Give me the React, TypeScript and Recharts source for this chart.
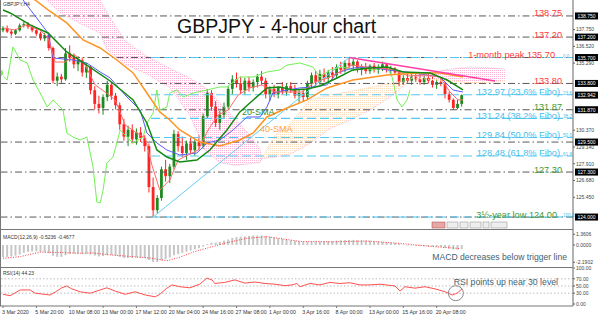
import React from 'react';
import { ComposedChart, Bar, Line, Area, XAxis, YAxis, ReferenceLine, ReferenceDot } from 'recharts';

const FONT = '"Liberation Sans", Arial, sans-serif';

// ---- DATA ----
// OHLC per bar (each bar ~ 8 hours, 3 Mar 2020 -> 22 Apr 2020)
const candles: [number, number, number, number][] = [
  [137.70,138.00,137.55,137.85],[137.85,138.05,137.50,137.60],[137.60,137.75,137.30,137.45],[137.45,137.80,137.35,137.70],[137.70,138.20,137.60,138.05],
  [138.05,138.35,137.90,138.15],[138.15,138.30,137.80,137.95],[137.95,138.10,137.55,137.70],[137.70,137.85,137.30,137.45],[137.45,137.60,136.95,137.10],
  [137.10,137.50,136.90,137.35],[137.35,137.40,136.20,136.40],[136.40,136.50,133.80,134.00],[134.00,134.60,133.60,134.30],[134.30,134.50,133.80,134.10],
  [134.10,136.40,134.00,136.00],[136.00,136.60,135.40,135.70],[135.70,136.00,134.90,135.20],[135.20,135.80,134.70,135.50],[135.50,135.70,134.30,134.60],
  [134.60,135.30,134.20,135.00],[135.00,135.10,133.00,133.30],[133.30,133.60,131.90,132.30],[132.30,132.90,131.60,132.00],[132.00,133.00,131.50,132.80],
  [132.80,134.00,132.50,133.70],[133.70,133.90,132.60,132.90],[132.90,133.10,131.90,132.20],[132.20,132.40,130.40,130.80],[130.80,131.20,129.60,129.90],
  [129.90,130.70,129.20,130.40],[130.40,130.80,129.40,129.70],[129.70,130.50,129.30,130.20],[130.20,130.60,129.50,129.80],[129.80,130.00,128.80,129.20],
  [129.20,129.40,125.80,126.20],[126.20,126.90,124.00,124.50],[124.50,125.60,124.30,125.40],[125.40,127.70,125.20,127.50],[127.50,128.20,126.60,127.00],
  [127.00,127.90,126.50,127.70],[127.70,130.40,127.50,130.10],[130.10,130.30,128.80,129.20],[129.20,129.90,128.40,128.70],[128.70,129.60,128.20,129.40],
  [129.40,129.80,128.60,128.90],[128.90,129.70,128.50,129.50],[129.50,130.00,128.90,129.20],[129.20,131.60,129.00,131.40],[131.40,133.40,131.20,133.10],
  [133.10,133.30,131.80,132.10],[132.10,132.50,130.60,130.90],[130.90,131.80,130.40,131.50],[131.50,132.40,131.20,132.10],[132.10,133.60,131.90,133.40],
  [133.40,134.40,133.00,134.10],[134.10,134.60,133.50,133.80],[133.80,134.30,133.00,133.30],[133.30,134.20,133.00,134.00],[134.00,134.30,133.20,133.50],
  [133.50,134.10,133.20,133.90],[133.90,134.50,133.50,134.30],[134.30,134.70,133.70,134.00],[134.00,134.20,132.70,133.00],[133.00,133.60,132.50,133.40],
  [133.40,133.70,132.80,133.00],[133.00,133.60,132.70,133.50],[133.50,133.90,133.00,133.20],[133.20,133.80,132.90,133.60],[133.60,133.90,133.10,133.30],
  [133.30,133.70,132.70,132.90],[132.90,133.30,132.40,133.10],[133.10,133.40,132.50,132.80],[132.80,134.00,132.60,133.80],[133.80,134.60,133.50,134.40],
  [134.40,134.70,133.60,133.90],[133.90,134.80,133.70,134.50],[134.50,134.90,133.90,134.20],[134.20,134.80,133.80,134.60],[134.60,135.00,134.10,134.40],
  [134.40,135.20,134.20,135.00],[135.00,135.40,134.50,134.80],[134.80,135.50,134.60,135.30],[135.30,135.70,134.90,135.10],[135.10,135.60,134.70,135.40],
  [135.40,135.50,134.60,134.80],[134.80,135.20,134.40,135.00],[135.00,135.30,134.50,134.70],[134.70,135.20,134.50,135.10],[135.10,135.30,134.60,134.80],
  [134.80,135.20,134.50,135.00],[135.00,135.40,134.70,135.20],[135.20,135.30,134.60,134.80],[134.80,135.10,134.40,134.90],[134.90,135.00,134.50,134.60],
  [134.60,134.70,133.60,133.90],[133.90,134.40,133.70,134.20],[134.20,134.60,133.80,134.00],[134.00,134.50,133.70,134.30],[134.30,134.60,133.90,134.10],
  [134.10,134.50,133.70,133.90],[133.90,134.40,133.70,134.20],[134.20,134.50,133.80,134.00],[134.00,134.30,133.50,133.70],[133.70,134.10,133.40,133.90],
  [133.90,134.20,133.60,133.80],[133.80,133.90,132.70,133.00],[133.00,133.20,132.40,132.60],[132.60,132.70,131.85,132.00],[132.00,132.60,131.90,132.30],
  [132.30,133.00,132.10,132.94],
];

const sma20: [number, number][] = [
  [0,139.19],[1.7,138.97],[6.5,138.09],[10.8,137.50],[15.3,136.11],[20.1,135.15],[25.7,133.98],[31.2,132.59],[34.5,130.90],[36.9,128.92],
  [39.3,128.40],[42.4,128.04],[46.5,128.18],[49.6,128.92],[53.7,130.39],[56.8,131.71],[60,132.59],[63.3,133.47],[66.4,133.54],[69.5,133.32],
  [72.9,133.39],[76,133.61],[80.1,134.20],[83.9,134.79],[88,134.93],[92.1,135.01],[95.9,134.64],[102.4,134.57],[106.5,134.05],[110.3,133.32],
];
const sma40: [number, number][] = [
  [0,140.9],[4,140.5],[7.7,139.92],[10.8,139.19],[15.3,138.24],[19.2,136.99],[23.3,136.40],[27.3,135.52],[31.2,134.57],[34.5,133.10],
  [37.6,131.71],[40,131.12],[42.4,130.39],[47.2,129.50],[52,129.21],[56.8,129.65],[60,130.17],[63.3,131.34],[68.1,132.00],[72.9,132.59],
  [77.7,133.47],[83.9,134.05],[92.1,134.42],[100,134.57],[104.8,134.57],[110.3,134.27],
];
const kijun: [number, number][] = [
  [1.7,141.0],[4.8,139.92],[10.8,137.50],[12,135.67],[16.8,135.52],[20.1,135.30],[23.3,134.64],[25.7,134.20],[29.7,132.81],[32.9,131.85],
  [34.5,130.17],[36.9,129.43],[39.3,128.92],[42.4,128.55],[46.5,128.70],[48.9,129.43],[52,129.65],[55.2,130.39],[58.5,131.34],[61.6,131.34],
  [63.3,132.07],[64.7,133.10],[68.1,133.32],[71.2,133.47],[74.3,133.54],[77.7,133.69],[80.1,134.57],[83.9,134.93],[88,135.01],[92.1,134.79],
  [96.9,134.64],[104.8,134.27],[107.9,133.32],[110.3,133.17],
];
const tenkan: [number, number][] = [
  [0,137.87],[2.9,137.72],[5.3,138.09],[8.9,137.72],[10.8,137.14],[12.5,135.37],[14.9,135.37],[17.3,135.89],[19.7,135.15],[22.1,133.69],
  [24.5,133.17],[26.9,132.59],[29.3,130.75],[31.7,130.24],[34.1,129.80],[35.7,127.82],[37.6,125.98],[40,126.72],[42,128.18],[44.4,128.55],
  [46.8,128.92],[49.2,130.39],[51.6,131.49],[54,131.85],[56.4,132.95],[59.2,133.47],[62.1,133.69],[65.2,133.17],[68.8,133.17],[71.7,133.17],
  [74.8,133.91],[77.9,134.20],[80.8,134.64],[83.7,135.15],[86.8,135.01],[90.4,134.93],[94,134.79],[97.1,134.35],[101.2,134.42],[104.8,134.27],
  [107.2,133.17],[109.1,132.59],[110.3,132.59],
];
const chikou: [number, number][] = [
  [-0.7,134.57],[1,134.05],[2.4,136.48],[4.1,135.52],[5.8,135.30],[7.2,134.05],[8.9,133.10],[10.6,132.07],[12,132.59],[14.4,131.85],
  [15.3,130.17],[16.8,129.87],[18.5,129.65],[20.1,129.87],[21.6,127.67],[22.5,125.10],[23.3,125.03],[24,125.98],[24.9,127.96],[26.4,128.40],
  [28.1,130.39],[29.7,129.87],[31.2,129.43],[33.6,129.87],[34.5,130.90],[36,131.63],[36.9,133.32],[37.6,131.85],[39.3,132.07],[40,133.10],
  [41.7,133.32],[43.2,132.81],[45.6,133.10],[48.9,133.32],[52,133.54],[53.7,133.54],[56.8,134.27],[60,134.27],[63.3,134.64],[66.4,134.79],
  [68.1,135.15],[71.2,135.30],[74.3,135.01],[76,134.27],[78.4,134.79],[81.5,135.01],[83.9,134.79],[86.3,135.01],[88.7,134.79],[92.1,135.01],
  [93.3,134.27],[94.5,132.59],[95.7,132.07],[96.9,132.59],[97.6,133.32],
];
// Ichimoku cloud: [bar, lower, upper]
const cloudBear1: [number, number, number][] = [
  [10.1,140.0,140.7],[13.7,139.0,140.7],[18.5,138.2,140.7],[23.3,137.5,139.9],[24.9,136.3,139.0],[29.3,135.2,136.9],[34.5,134.5,135.8],
  [40,133.5,134.9],[44.8,131.5,134.2],[48.4,128.9,133.5],[52,128.0,132.4],[55.6,127.8,131.2],[59.2,127.9,130.0],[61.6,128.0,129.0],[62.1,128.3,128.3],
];
const cloudBull: [number, number, number][] = [
  [62.1,128.3,128.3],[65.2,128.4,130.0],[68.8,128.6,130.8],[73.6,129.4,132.6],[78.4,130.5,132.95],[83.2,131.1,133.2],[88,131.85,133.5],
  [92.8,132.8,133.8],[96.4,133.7,134.0],[98.1,134.2,134.2],
];
const cloudBear2: [number, number, number][] = [
  [98.1,134.2,134.2],[102.4,134.1,134.6],[107.2,134.0,134.85],[112,133.85,135.0],[116.8,133.9,134.95],[120.4,134.0,134.85],
];
const fiboDiagonal: [number, number][] = [[36,124.0],[83,135.7]];
const resistanceLine: [number, number][] = [[83,135.7],[118,133.98]];

const grayLevels = [138.75, 137.20, 135.70, 133.80, 131.87, 129.50, 127.30, 124.00];
const fiboLevels: [number, string][] = [[135.70,'0.0'],[132.97,'23.6'],[131.24,'38.2'],[129.84,'50.0'],[128.48,'61.8'],[124.00,'100.0']];
const levelLabels: [number, string, string, number][] = [
  [138.75,'138.75','red',562],[137.20,'137.20','red',562],[135.70,'1-month peak 135.70','red',555],[133.80,'133.80','red',562],
  [132.97,'132.97 (23.6% Fibo)','blue',560],[131.87,'131.87','green',562],[131.24,'131.24 (38.2% Fibo)','blue',560],
  [129.84,'129.84 (50.0% Fibo)','blue',560],[128.48,'128.48 (61.8% Fibo)','blue',560],[127.30,'127.30','green',562],
  [124.00,'3½-year low 124.00','green',557],
];
const priceBoxes = [138.75, 137.20, 135.70, 133.80, 132.942, 131.87, 129.50, 127.30, 124.00];
const priceTicks = [125.45,126.68,127.91,129.14,130.37,135.29,136.52,137.75];

const macdHist = [
  -1.55,-1.5,-1.45,-1.35,-1.2,-1.0,-0.85,-0.8,-0.8,-0.85,
  -0.9,-1.05,-1.35,-1.5,-1.5,-1.3,-1.15,-1.1,-1.1,-1.15,
  -1.1,-1.2,-1.35,-1.45,-1.4,-1.3,-1.3,-1.35,-1.5,-1.65,
  -1.65,-1.65,-1.6,-1.6,-1.65,-1.9,-2.15,-2.15,-1.95,-1.8,
  -1.6,-1.3,-1.15,-1.0,-0.85,-0.7,-0.55,-0.4,-0.2,0.1,
  0.25,0.3,0.4,0.55,0.7,0.9,1.0,1.05,1.1,1.15,
  1.2,1.2,1.2,1.15,1.05,0.95,0.85,0.8,0.7,0.6,
  0.55,0.45,0.4,0.4,0.45,0.45,0.45,0.5,0.5,0.5,
  0.55,0.6,0.62,0.65,0.65,0.62,0.6,0.58,0.55,0.5,
  0.45,0.4,0.35,0.3,0.25,0.15,0.05,0.0,-0.05,-0.1,
  -0.12,-0.15,-0.18,-0.2,-0.22,-0.25,-0.35,-0.45,-0.55,-0.6,
  -0.52,
];
const macdSignal: [number, number][] = [
  [0,-1.69],[4.1,-1.48],[8.9,-0.9],[13.7,-0.95],[18.5,-1.05],[21.6,-1.0],[25.7,-1.25],[31.2,-1.48],[35.3,-1.65],[39.3,-2.0],
  [42.4,-1.55],[45.6,-0.9],[48.9,-0.4],[53.7,0.3],[58.5,0.85],[63.3,1.05],[68.1,0.7],[71.2,0.45],[79.1,0.4],[87.3,0.5],
  [95.2,0.2],[103.1,-0.2],[109.6,-0.45],
];
const rsi: [number, number][] = [
  [0,27],[1.7,23],[4.1,39],[6.5,39],[7.7,30],[11.3,25],[12.5,33],[14.1,45],[15.3,50],[16.5,42],
  [18.5,34],[20.9,30],[23.3,39],[24.9,45],[26.9,36],[29.3,27],[31.7,34],[34.1,25],[36.5,20],[37.6,27],
  [39.3,44],[40.5,53],[42.4,48],[44.8,45],[47.2,55],[48.9,72],[50.1,67],[50.8,57],[53.2,60],[55.6,67],
  [58,58],[60.4,61],[62.8,57],[65.2,55],[67.6,51],[69.3,53],[70.5,57],[71.2,48],[73.6,57],[76,53],
  [78.4,60],[80.8,57],[83.2,59],[85.6,53],[88,53],[90.4,55],[94,50],[95.2,36],[96.4,48],[98.8,44],
  [101.2,48],[103.6,42],[106,34],[107.7,25],[108.9,30],[110.1,42],
];
const dateTicks = [0,8,16,24,32,40,48,56,64,72,80,88,96,104];
const dateLabels = ['3 Mar 2020','5 Mar 20:00','10 Mar 08:00','13 Mar 00:00','17 Mar 12:00','20 Mar 04:00','24 Mar 16:00',
  '27 Mar 08:00','1 Apr 00:00','3 Apr 16:00','8 Apr 00:00','13 Apr 00:00','15 Apr 16:00','20 Apr 08:00'];

// ---- derived tables ----
const priceData = candles.map(([o, h, l, c], i) => ({ i, o, h, l, c, range: [l, h] }));
const pts = (a: [number, number][]) => a.map(([i, v]) => ({ i, v }));
const cloud = (a: [number, number, number][]) => a.map(([i, lo, hi]) => ({ i, r: [lo, hi], lo, hi }));
const macdData = macdHist.map((m, i) => ({ i, m, r: [Math.min(0, m), Math.max(0, m)] }));

const X_DOMAIN: [number, number] = [-0.72, 136.69];
const MAIN_DOMAIN: [number, number] = [123.05, 139.92];
const COLORS: Record<string, string> = { red: '#ff3838', blue: '#45c0ec', green: '#3c9a34' };

function Candle(props: any) {
  const { x, y, width, height, payload } = props;
  if (!payload || x == null) return null;
  const { o, h, l, c } = payload;
  const top = Math.min(y, y + height);
  const span = Math.abs(height);
  const toY = (v: number) => top + (h === l ? 0 : ((h - v) / (h - l)) * span);
  const cx = x + width / 2;
  const up = c >= o;
  const col = up ? '#1f8a1f' : '#ff2424';
  const bt = toY(Math.max(o, c));
  const bb = toY(Math.min(o, c));
  return (
    <g>
      <line x1={cx} x2={cx} y1={top} y2={top + span} stroke={col} strokeWidth={1} />
      <rect x={cx - 1.4} y={bt} width={2.8} height={Math.max(bb - bt, 0.8)} fill={col} />
    </g>
  );
}

function HistBar(props: any) {
  const { x, y, width, height } = props;
  if (x == null) return null;
  const top = Math.min(y, y + height);
  const cx = x + width / 2;
  return <rect x={cx - 1} y={top} width={2} height={Math.max(Math.abs(height), 0.5)} fill="#c6c6c6" />;
}

function LevelText(props: any) {
  const { viewBox, text, color, xEnd } = props;
  if (!viewBox) return null;
  return (
    <text x={xEnd} y={viewBox.y + 0.5} textAnchor="end" fill={color} fontSize={9.2} fontFamily={FONT}>{text}</text>
  );
}
function FiboTag(props: any) {
  const { viewBox, text } = props;
  if (!viewBox) return null;
  return <text x={563} y={viewBox.y} fill="#45c0ec" fontSize={4.6} fontFamily={FONT}>{text}</text>;
}
function PriceBox(props: any) {
  const { viewBox, value } = props;
  if (!viewBox) return null;
  const x0 = viewBox.x + viewBox.width + 2;
  return (
    <g>
      <rect x={x0} y={viewBox.y - 3.5} width={23} height={7} fill="#000" />
      <text x={x0 + 11.5} y={viewBox.y + 2} textAnchor="middle" fill="#fff" fontSize={5} fontFamily={FONT}>{value.toFixed(3)}</text>
    </g>
  );
}
function DateTick(props: any) {
  const { x, y, payload } = props;
  const idx = dateTicks.indexOf(payload.value);
  return <text x={x - 1} y={y + 4} fontSize={5.3} fill="#333" fontFamily={FONT} textAnchor="start">{dateLabels[idx]}</text>;
}

const axisTick = { fontSize: 5, fill: '#444', fontFamily: FONT };

export default function App() {
  return (
    <div style={{ position: 'absolute', left: 0, top: 0, width: 600, height: 317, background: '#fff', overflow: 'hidden' }}>
      {/* MAIN PRICE PANEL */}
      <div style={{ position: 'absolute', left: 0, top: 0 }}>
        <ComposedChart width={600} height={230} data={priceData} margin={{ top: 0, right: 0, bottom: 0, left: 0 }}>
          <defs>
            <pattern id="pinkDots" width="2" height="2" patternUnits="userSpaceOnUse">
              <rect x="0" y="0" width="1" height="1" fill="#ffb3d6" />
            </pattern>
            <pattern id="peachDots" width="2" height="2" patternUnits="userSpaceOnUse">
              <rect x="0" y="0" width="1" height="1" fill="#ffdcbc" />
            </pattern>
          </defs>
          <XAxis dataKey="i" type="number" domain={X_DOMAIN} hide allowDataOverflow />
          <YAxis orientation="right" width={27} domain={MAIN_DOMAIN} allowDataOverflow ticks={priceTicks}
            tick={axisTick} tickSize={2} tickMargin={1} tickFormatter={(v: number) => v.toFixed(3)}
            axisLine={{ stroke: '#666' }} tickLine={{ stroke: '#666' }} interval={0} />

          <Area data={cloud(cloudBear1)} dataKey="r" type="linear" stroke="none" fill="url(#pinkDots)" fillOpacity={1} isAnimationActive={false} />
          <Area data={cloud(cloudBull)} dataKey="r" type="linear" stroke="none" fill="url(#peachDots)" fillOpacity={1} isAnimationActive={false} />
          <Area data={cloud(cloudBear2)} dataKey="r" type="linear" stroke="none" fill="url(#pinkDots)" fillOpacity={1} isAnimationActive={false} />
          <Line data={cloud(cloudBear1)} dataKey="hi" stroke="#ffb3d6" strokeWidth={1} strokeDasharray="1 1" dot={false} isAnimationActive={false} />
          <Line data={cloud(cloudBear1)} dataKey="lo" stroke="#ffb3d6" strokeWidth={1} strokeDasharray="1 1" dot={false} isAnimationActive={false} />
          <Line data={cloud(cloudBull)} dataKey="hi" stroke="#ffd2a8" strokeWidth={1} strokeDasharray="1 1" dot={false} isAnimationActive={false} />
          <Line data={cloud(cloudBull)} dataKey="lo" stroke="#ffb3d6" strokeWidth={1} strokeDasharray="1 1" dot={false} isAnimationActive={false} />
          <Line data={cloud(cloudBear2)} dataKey="hi" stroke="#ffb3d6" strokeWidth={1} strokeDasharray="1 1" dot={false} isAnimationActive={false} />
          <Line data={cloud(cloudBear2)} dataKey="lo" stroke="#ffd2a8" strokeWidth={1} strokeDasharray="1 1" dot={false} isAnimationActive={false} />

          {grayLevels.map((v) => (
            <ReferenceLine key={'g' + v} y={v} stroke="#5a5a5a" strokeWidth={1} strokeDasharray="7 3 1.5 3" />
          ))}
          {fiboLevels.map(([v]) => (
            <ReferenceLine key={'f' + v} segment={[{ x: 35.5, y: v }, { x: 136.6, y: v }]} stroke="#55c8f0" strokeWidth={1.1} strokeDasharray="9 4" />
          ))}
          {fiboLevels.map(([v, t]) => (
            <ReferenceLine key={'ft' + v} y={v} stroke="none" label={<FiboTag text={t} />} />
          ))}

          <Line data={pts(fiboDiagonal)} dataKey="v" stroke="#66ccf5" strokeWidth={1} dot={false} isAnimationActive={false} />
          <Line data={pts(chikou)} dataKey="v" stroke="#72f252" strokeWidth={1} dot={false} isAnimationActive={false} />

          <Bar dataKey="range" barSize={3} shape={(p: any) => <Candle {...p} />} isAnimationActive={false} />

          <Line data={pts(kijun)} dataKey="v" stroke="#5a5aff" strokeWidth={1} dot={false} isAnimationActive={false} />
          <Line data={pts(tenkan)} dataKey="v" stroke="#ff6a6a" strokeWidth={1} dot={false} isAnimationActive={false} />
          <Line data={pts(sma40)} dataKey="v" stroke="#ff9424" strokeWidth={1.5} dot={false} isAnimationActive={false} />
          <Line data={pts(sma20)} dataKey="v" stroke="#138a13" strokeWidth={1.5} dot={false} isAnimationActive={false} />
          <Line data={pts(resistanceLine)} dataKey="v" stroke="#ff3fa6" strokeWidth={1.5} dot={false} isAnimationActive={false} />

          {levelLabels.map(([v, t, c, xe]) => (
            <ReferenceLine key={'l' + t} y={v} stroke="none" label={<LevelText text={t} color={COLORS[c]} xEnd={xe} />} />
          ))}
          {priceBoxes.map((v) => (
            <ReferenceLine key={'b' + v} y={v} stroke="none" label={<PriceBox value={v} />} />
          ))}
        </ComposedChart>
      </div>

      {/* MACD PANEL (plot area y 230..267) */}
      <div style={{ position: 'absolute', left: 0, top: 226 }}>
        <ComposedChart width={600} height={45} data={macdData} margin={{ top: 4, right: 0, bottom: 4, left: 0 }}>
          <XAxis dataKey="i" type="number" domain={X_DOMAIN} hide allowDataOverflow />
          <YAxis orientation="right" width={27} domain={[-2.788, 1.901]} allowDataOverflow ticks={[1.3606, 0, -2.1902]}
            tick={axisTick} tickSize={2} tickMargin={1} tickFormatter={(v: number) => v.toFixed(4)}
            axisLine={{ stroke: '#666' }} tickLine={{ stroke: '#666' }} interval={0} />
          <Bar dataKey="r" barSize={2} shape={(p: any) => <HistBar {...p} />} isAnimationActive={false} />
          <Line data={pts(macdSignal)} dataKey="v" stroke="#ff3a3a" strokeWidth={1} strokeDasharray="1 1.5" dot={false} isAnimationActive={false} />
        </ComposedChart>
      </div>

      {/* RSI PANEL (plot area y 268..306) */}
      <div style={{ position: 'absolute', left: 0, top: 262 }}>
        <ComposedChart width={600} height={55} margin={{ top: 6, right: 0, bottom: 0, left: 0 }}>
          <XAxis dataKey="i" type="number" domain={X_DOMAIN} allowDataOverflow ticks={dateTicks} interval={0} height={11}
            tickSize={2} axisLine={{ stroke: '#777' }} tickLine={{ stroke: '#777' }} tick={<DateTick />} />
          <YAxis orientation="right" width={27} domain={[-5.56, 100]} allowDataOverflow ticks={[100, 70, 50, 30, 0]}
            tick={axisTick} tickSize={2} tickMargin={1} tickFormatter={(v: number) => v.toFixed(2)}
            axisLine={{ stroke: '#666' }} tickLine={{ stroke: '#666' }} interval={0} />
          {[70, 50, 30].map((v) => (
            <ReferenceLine key={'r' + v} y={v} stroke="#bdbdbd" strokeDasharray="1.5 2" />
          ))}
          <Line data={pts(rsi)} dataKey="v" stroke="#ff5050" strokeWidth={1} dot={false} isAnimationActive={false} />
          <ReferenceDot x={108.6} y={30} r={7.5} fill="none" stroke="#8c8c8c" strokeWidth={1} />
        </ComposedChart>
      </div>

      {/* FRAME & ANNOTATIONS */}
      <svg width={600} height={317} style={{ position: 'absolute', left: 0, top: 0, pointerEvents: 'none' }}>
        <line x1={0.5} y1={0} x2={0.5} y2={306} stroke="#777" />
        <line x1={0} y1={229.5} x2={573} y2={229.5} stroke="#777" />
        <line x1={0} y1={267.5} x2={573} y2={267.5} stroke="#777" />
        <text x={177} y={33} fontSize={19.5} fill="#111" fontFamily={FONT}>GBPJPY - 4-hour chart</text>
        <text x={3} y={6} fontSize={5} fill="#333" fontFamily={FONT}>GBPJPY,H4</text>
        <text x={242} y={115} fontSize={9} fill="#2d8f2d" fontFamily={FONT}>20-SMA</text>
        <text x={260} y={132} fontSize={9} fill="#ffa040" fontFamily={FONT}>40-SMA</text>
        <text x={3} y={239} fontSize={5} fill="#333" fontFamily={FONT}>MACD(12,26,9) -0.5236 -0.4677</text>
        <text x={567} y={260} textAnchor="end" fontSize={8.6} fill="#3e6272" fontFamily={FONT}>MACD decreases below trigger line</text>
        <text x={3} y={275} fontSize={5} fill="#333" fontFamily={FONT}>RSI(14) 44.23</text>
        <text x={558} y={285} textAnchor="end" fontSize={8.7} fill="#3e6272" fontFamily={FONT}>RSI points up near 30 level</text>
        <rect x={432} y={222} width={13} height={6} fill="#e9a7a7" stroke="#a44" strokeWidth={0.5} />
        <rect x={447} y={222} width={11} height={6} fill="#eee" stroke="#888" strokeWidth={0.5} />
        <rect x={460} y={222} width={8} height={6} fill="#eee" stroke="#888" strokeWidth={0.5} />
        <rect x={470} y={222} width={11} height={6} fill="#eee" stroke="#888" strokeWidth={0.5} />
        <rect x={483} y={222} width={6} height={6} fill="#eee" stroke="#888" strokeWidth={0.5} />
        <rect x={491} y={222} width={16} height={6} fill="#eee" stroke="#888" strokeWidth={0.5} />
      </svg>
    </div>
  );
}
